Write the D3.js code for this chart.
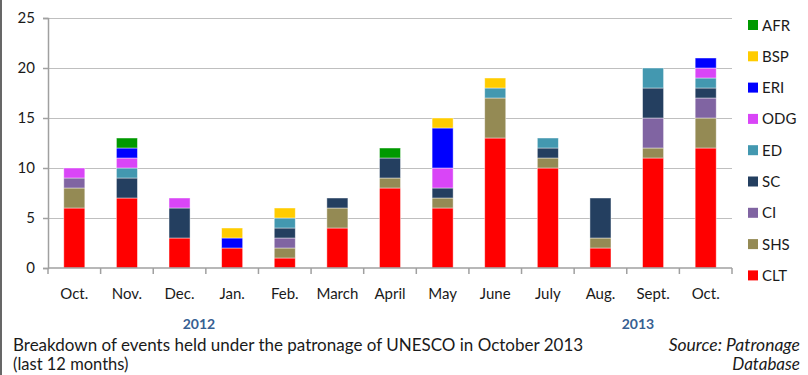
<!DOCTYPE html>
<html>
<head>
<meta charset="utf-8">
<script src="https://cdn.jsdelivr.net/npm/d3@7/dist/d3.min.js"></script>
<style>
  html, body { margin: 0; padding: 0; background: #fff; }
  svg { display: block; }
  text { font-family: Lato, "Open Sans", sans-serif; }
</style>
</head>
<body>
<svg id="chart" width="808" height="375"></svg>
<script>
// Months of the last 12 months (Oct 2012 – Oct 2013)
const months = ["Oct.", "Nov.", "Dec.", "Jan.", "Feb.", "March", "April", "May", "June", "July", "Aug.", "Sept.", "Oct."];

// Sectors, stacked bottom to top
const sectors = ["CLT", "SHS", "CI", "SC", "ED", "ODG", "ERI", "BSP", "AFR"];
const sectorColors = ["#ff0000", "#948a54", "#8064a2", "#243f60", "#4398b0", "#d945f7", "#0000ff", "#ffcc00", "#009900"];

// Number of events per sector, one value per month
const CLT = [6, 7, 3, 2, 1, 4, 8, 6, 13, 10, 2, 11, 12];
const SHS = [2, 0, 0, 0, 1, 2, 1, 1, 4, 1, 1, 1, 3];
const CI  = [1, 0, 0, 0, 1, 0, 0, 0, 0, 0, 0, 3, 2];
const SC  = [0, 2, 3, 0, 1, 1, 2, 1, 0, 1, 4, 3, 1];
const ED  = [0, 1, 0, 0, 1, 0, 0, 0, 1, 1, 0, 2, 1];
const ODG = [1, 1, 1, 0, 0, 0, 0, 2, 0, 0, 0, 0, 1];
const ERI = [0, 1, 0, 1, 0, 0, 0, 4, 0, 0, 0, 0, 1];
const BSP = [0, 0, 0, 1, 1, 0, 0, 1, 1, 0, 0, 0, 0];
const AFR = [0, 1, 0, 0, 0, 0, 1, 0, 0, 0, 0, 0, 0];

const yTicks = [0, 5, 10, 15, 20, 25];
const yearLabels = ["2012", "2013"];

const seriesValues = { CLT, SHS, CI, SC, ED, ODG, ERI, BSP, AFR };
const table = months.map((m, i) => {
  const row = { idx: i, month: m };
  sectors.forEach(s => { row[s] = seriesValues[s][i]; });
  return row;
});

const svg = d3.select("#chart");
const plotLeft = 48, plotRight = 732, plotTop = 18, plotBottom = 268;

const x = d3.scaleBand()
  .domain(d3.range(months.length))
  .range([plotLeft, plotRight])
  .paddingInner(0.6)
  .paddingOuter(0.3);

const y = d3.scaleLinear().domain([0, 25]).range([plotBottom, plotTop]);

// frame line on the left edge
svg.append("line")
  .attr("x1", 1).attr("x2", 1).attr("y1", 0).attr("y2", 375)
  .attr("stroke", "#000").attr("stroke-width", 1.2);

// horizontal gridlines
svg.append("g").selectAll("line")
  .data(yTicks.filter(t => t > 0))
  .join("line")
  .attr("x1", plotLeft).attr("x2", plotRight)
  .attr("y1", d => Math.round(y(d)) + 0.5).attr("y2", d => Math.round(y(d)) + 0.5)
  .attr("stroke", "#bfbfbf").attr("stroke-width", 1);

// stacked bars
const stack = d3.stack().keys(sectors);
const layers = stack(table);
svg.append("g").selectAll("g")
  .data(layers)
  .join("g")
  .attr("fill", (d, i) => sectorColors[i])
  .selectAll("rect")
  .data(d => d.filter(p => p[1] - p[0] > 0))
  .join("rect")
  .attr("x", d => x(d.data.idx))
  .attr("width", x.bandwidth())
  .attr("y", d => y(d[1]))
  .attr("height", d => y(d[0]) - y(d[1]))
  .attr("stroke", "rgba(255,255,255,0.55)")
  .attr("stroke-width", 0.8);

// y axis
const yAxis = d3.axisLeft(y).tickValues(yTicks).tickSize(5).tickPadding(8);
const gy = svg.append("g").attr("transform", `translate(${plotLeft},0)`).call(yAxis);
gy.select(".domain").attr("stroke", "#a0a0a0").attr("stroke-width", 1.5);
gy.selectAll(".tick line").attr("stroke", "#a0a0a0").attr("stroke-width", 1.5);
gy.selectAll(".tick text").attr("font-size", 15).attr("fill", "#1a1a1a")
  .style("font-family", "Lato, sans-serif");

// x axis: ticks sit on band boundaries
const gx = svg.append("g").attr("transform", `translate(0,${plotBottom})`);
gx.append("line").attr("x1", plotLeft).attr("x2", plotRight).attr("y1", 0).attr("y2", 0)
  .attr("stroke", "#a0a0a0").attr("stroke-width", 1.5);
const step = x.step();
gx.selectAll("line.tk")
  .data(d3.range(months.length + 1))
  .join("line").attr("class", "tk")
  .attr("x1", i => plotLeft + i * step).attr("x2", i => plotLeft + i * step)
  .attr("y1", 0).attr("y2", 6)
  .attr("stroke", "#a0a0a0").attr("stroke-width", 1.5);
gx.selectAll("text")
  .data(table)
  .join("text")
  .attr("x", d => x(d.idx) + x.bandwidth() / 2)
  .attr("y", 31)
  .attr("text-anchor", "middle")
  .attr("font-size", 15)
  .attr("fill", "#1a1a1a")
  .text(d => d.month);

// year labels
svg.selectAll("text.year")
  .data(yearLabels)
  .join("text").attr("class", "year")
  .attr("x", (d, i) => i === 0 ? 199 : 638)
  .attr("y", 329)
  .attr("text-anchor", "middle")
  .attr("font-size", 14)
  .attr("font-weight", "bold")
  .attr("fill", "#376092")
  .text(d => d);

// legend (top to bottom: reverse stacking order)
const legendKeys = sectors.slice().reverse();
const lg = svg.append("g");
legendKeys.forEach((k, i) => {
  const cy = 25 + i * 31.3;
  lg.append("rect")
    .attr("x", 748).attr("y", cy - 5).attr("width", 10).attr("height", 10)
    .attr("fill", sectorColors[sectors.indexOf(k)]);
  lg.append("text")
    .attr("x", 762).attr("y", cy + 5.5)
    .attr("font-size", 15).attr("fill", "#1a1a1a")
    .text(k);
});

// caption and source
svg.append("text").attr("x", 13).attr("y", 351)
  .attr("font-size", 17).attr("fill", "#1a1a1a")
  .text("Breakdown of events held under the patronage of UNESCO in October 2013");
svg.append("text").attr("x", 13).attr("y", 370)
  .attr("font-size", 16.5).attr("fill", "#1a1a1a")
  .text("(last 12 months)");
svg.append("text").attr("x", 800).attr("y", 351)
  .attr("text-anchor", "end").attr("font-style", "italic")
  .attr("font-size", 17.5).attr("fill", "#1a1a1a")
  .text("Source: Patronage");
svg.append("text").attr("x", 800).attr("y", 370)
  .attr("text-anchor", "end").attr("font-style", "italic")
  .attr("font-size", 17).attr("fill", "#1a1a1a")
  .text("Database");
</script>
</body>
</html>
